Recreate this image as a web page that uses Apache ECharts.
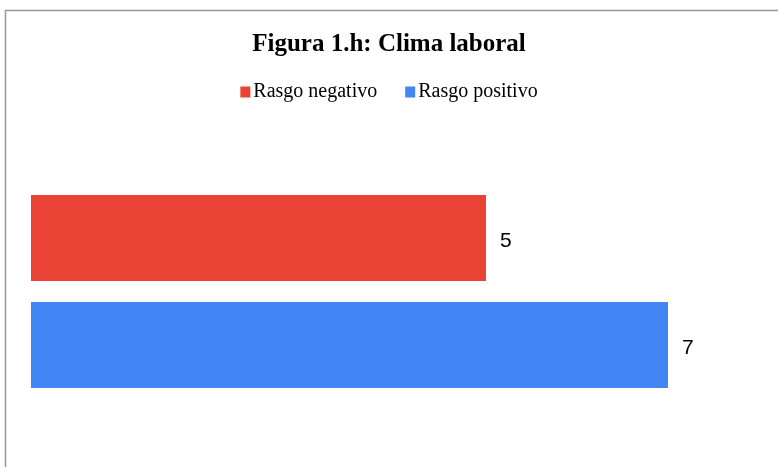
<!DOCTYPE html>
<html><head><meta charset="utf-8">
<script src="https://cdn.jsdelivr.net/npm/echarts@6/dist/echarts.min.js"></script>
<style>html,body{margin:0;padding:0;background:#fff}#c{width:778px;height:467px}</style>
</head><body><div id="c"></div>
<script>
const titleText = 'Figura 1.h: Clima laboral';
const categories = [''];
const seriesNames = ['Rasgo negativo', 'Rasgo positivo'];
const negativoValues = [5];
const positivoValues = [7];
const colors = ['#EA4335', '#4285F4'];

const labelStyle = { show: true, position: 'right', distance: 14, offset: [0, 3], fontFamily: 'Liberation Sans', fontSize: 21, color: '#000' };
const chart = echarts.init(document.getElementById('c'));
chart.setOption({
  animation: false,
  backgroundColor: '#fff',
  title: {
    text: titleText, left: 'center', top: 27,
    textStyle: { fontFamily: 'Liberation Serif', fontWeight: 'bold', fontSize: 25, color: '#000' }
  },
  legend: {
    data: seriesNames, top: 77, left: 'center', itemWidth: 10, itemHeight: 11, itemGap: 28,
    icon: 'rect',
    textStyle: { fontFamily: 'Liberation Serif', fontSize: 20, color: '#000', padding: [0,0,0,-2] }
  },
  grid: { left: 31, right: 19, top: 150, bottom: 34 },
  xAxis: { type: 'value', min: 0, max: 8, show: false },
  yAxis: { type: 'category', data: categories, inverse: true, show: false },
  series: [
    { name: seriesNames[0], type: 'bar', data: negativoValues, barWidth: 86, barGap: '24.4%',
      itemStyle: { color: colors[0] }, label: labelStyle },
    { name: seriesNames[1], type: 'bar', data: positivoValues, barWidth: 86,
      itemStyle: { color: colors[1] }, label: labelStyle }
  ],
  graphic: [{ type: 'rect', shape: { x: 5.5, y: 10.5, width: 820, height: 520 },
    style: { fill: null, stroke: '#999', lineWidth: 1.5 }, silent: true }]
});
</script></body></html>
